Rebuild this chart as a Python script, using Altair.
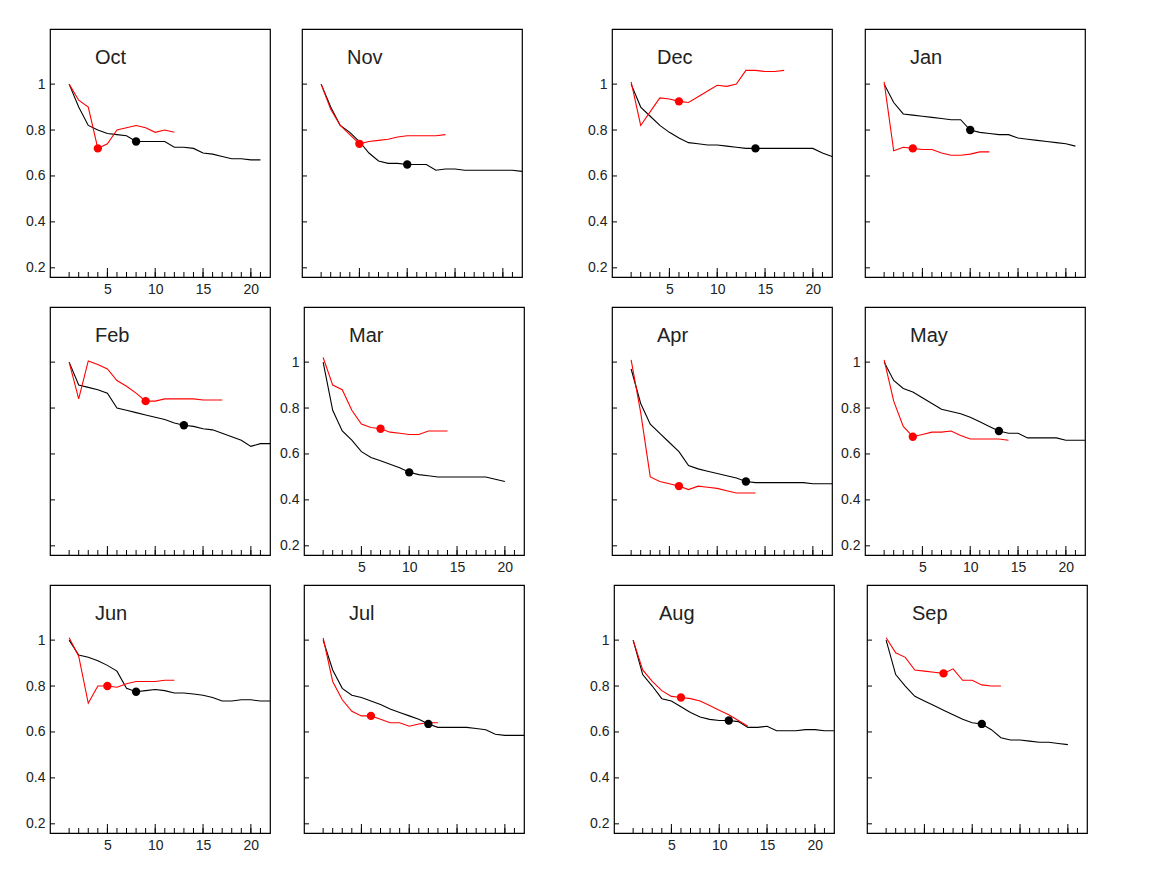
import pandas as pd
import altair as alt

months = ["Oct", "Nov", "Dec", "Jan", "Feb", "Mar", "Apr", "May", "Jun", "Jul", "Aug", "Sep"]

oct_black = [1.0, 0.9, 0.82, 0.80, 0.785, 0.78, 0.775, 0.75, 0.75, 0.75, 0.75, 0.725, 0.725, 0.72, 0.70, 0.695, 0.685, 0.675, 0.675, 0.67, 0.67]
oct_red = [1.0, 0.93, 0.90, 0.72, 0.74, 0.80, 0.81, 0.82, 0.81, 0.79, 0.80, 0.79]
nov_black = [1.0, 0.90, 0.82, 0.79, 0.75, 0.70, 0.665, 0.655, 0.655, 0.65, 0.65, 0.65, 0.625, 0.63, 0.63, 0.625, 0.625, 0.625, 0.625, 0.625, 0.625, 0.62]
nov_red = [1.0, 0.89, 0.82, 0.78, 0.74, 0.75, 0.755, 0.76, 0.77, 0.775, 0.775, 0.775, 0.775, 0.78]
dec_black = [1.0, 0.90, 0.86, 0.82, 0.79, 0.765, 0.745, 0.74, 0.735, 0.735, 0.73, 0.725, 0.72, 0.72, 0.72, 0.72, 0.72, 0.72, 0.72, 0.72, 0.70, 0.685]
dec_red = [1.01, 0.82, 0.88, 0.94, 0.935, 0.925, 0.92, 0.945, 0.97, 0.995, 0.99, 1.0, 1.06, 1.06, 1.055, 1.055, 1.06]
jan_black = [1.0, 0.92, 0.87, 0.865, 0.86, 0.855, 0.85, 0.845, 0.845, 0.80, 0.79, 0.785, 0.78, 0.78, 0.765, 0.76, 0.755, 0.75, 0.745, 0.74, 0.73]
jan_red = [1.01, 0.71, 0.725, 0.72, 0.715, 0.715, 0.70, 0.69, 0.69, 0.695, 0.705, 0.705]
feb_black = [1.0, 0.90, 0.89, 0.88, 0.865, 0.80, 0.79, 0.78, 0.77, 0.76, 0.75, 0.735, 0.725, 0.72, 0.71, 0.705, 0.69, 0.675, 0.66, 0.633, 0.645, 0.645]
feb_red = [1.0, 0.84, 1.005, 0.99, 0.97, 0.92, 0.895, 0.865, 0.83, 0.83, 0.84, 0.84, 0.84, 0.84, 0.835, 0.835, 0.835]
mar_black = [1.0, 0.79, 0.70, 0.66, 0.61, 0.585, 0.57, 0.555, 0.54, 0.52, 0.51, 0.505, 0.50, 0.50, 0.50, 0.50, 0.50, 0.50, 0.49, 0.48]
mar_red = [1.02, 0.90, 0.88, 0.79, 0.73, 0.715, 0.71, 0.695, 0.69, 0.685, 0.685, 0.70, 0.70, 0.70]
apr_black = [0.97, 0.82, 0.73, 0.69, 0.65, 0.61, 0.55, 0.535, 0.525, 0.515, 0.505, 0.495, 0.48, 0.475, 0.475, 0.475, 0.475, 0.475, 0.475, 0.47, 0.47, 0.47]
apr_red = [1.01, 0.78, 0.50, 0.48, 0.47, 0.46, 0.445, 0.46, 0.455, 0.45, 0.44, 0.43, 0.43, 0.43]
may_black = [1.0, 0.92, 0.885, 0.87, 0.845, 0.82, 0.795, 0.785, 0.775, 0.76, 0.74, 0.72, 0.70, 0.69, 0.69, 0.67, 0.67, 0.67, 0.67, 0.66, 0.66, 0.66]
may_red = [1.01, 0.83, 0.72, 0.675, 0.685, 0.695, 0.695, 0.70, 0.68, 0.665, 0.665, 0.665, 0.665, 0.66]
jun_black = [1.0, 0.935, 0.925, 0.91, 0.89, 0.865, 0.79, 0.775, 0.78, 0.785, 0.78, 0.77, 0.77, 0.765, 0.76, 0.75, 0.735, 0.735, 0.74, 0.74, 0.735, 0.735]
jun_red = [1.01, 0.93, 0.725, 0.80, 0.80, 0.795, 0.81, 0.82, 0.82, 0.82, 0.825, 0.825]
jul_black = [1.0, 0.87, 0.79, 0.76, 0.75, 0.735, 0.72, 0.70, 0.685, 0.67, 0.655, 0.635, 0.62, 0.62, 0.62, 0.62, 0.615, 0.61, 0.59, 0.585, 0.585, 0.585]
jul_red = [1.01, 0.82, 0.74, 0.69, 0.67, 0.67, 0.655, 0.64, 0.64, 0.625, 0.635, 0.64, 0.64]
aug_black = [1.0, 0.85, 0.80, 0.745, 0.735, 0.71, 0.685, 0.665, 0.655, 0.65, 0.65, 0.645, 0.62, 0.62, 0.625, 0.605, 0.605, 0.605, 0.61, 0.61, 0.605, 0.605]
aug_red = [1.0, 0.87, 0.82, 0.78, 0.755, 0.75, 0.745, 0.735, 0.715, 0.695, 0.675, 0.65, 0.625]
sep_black = [1.0, 0.85, 0.80, 0.755, 0.735, 0.715, 0.695, 0.675, 0.655, 0.64, 0.635, 0.61, 0.575, 0.565, 0.565, 0.56, 0.555, 0.555, 0.55, 0.545]
sep_red = [1.01, 0.945, 0.925, 0.87, 0.865, 0.86, 0.855, 0.875, 0.825, 0.825, 0.805, 0.80, 0.80]

black_series = [oct_black, nov_black, dec_black, jan_black, feb_black, mar_black,
                apr_black, may_black, jun_black, jul_black, aug_black, sep_black]
red_series = [oct_red, nov_red, dec_red, jan_red, feb_red, mar_red,
              apr_red, may_red, jun_red, jul_red, aug_red, sep_red]
black_dot_x = [8, 10, 14, 10, 13, 10, 13, 13, 8, 12, 11, 11]
red_dot_x = [4, 5, 6, 4, 9, 7, 6, 4, 5, 6, 6, 7]

minor_ticks = list(range(1, 22))
major_ticks = [5, 10, 15, 20]
y_ticks = [0.2, 0.4, 0.6, 0.8, 1.0]

W = 220
H = 248
col_extent = [41, 30, 86, 29]
FONT = "Liberation Sans"

xs = alt.Scale(domain=[-1, 22], nice=False, zero=False)
ys = alt.Scale(domain=[0.16, 1.24], nice=False, zero=False)
cs = alt.Scale(domain=["black", "red"], range=["#000000", "#ff0000"])


def panel(i):
    row, col = divmod(i, 4)
    labelled = (row + col) % 2 == 0
    rows = []
    for k, v in enumerate(black_series[i]):
        rows.append({"x": k + 1, "y": v, "s": "black"})
    for k, v in enumerate(red_series[i]):
        rows.append({"x": k + 1, "y": v, "s": "red"})
    df = pd.DataFrame(rows)
    dots = pd.concat([
        df[(df.s == "black") & (df.x == black_dot_x[i])],
        df[(df.s == "red") & (df.x == red_dot_x[i])],
    ])

    xax = alt.Axis(values=major_ticks, labels=labelled, ticks=False, domain=False, grid=False,
                   title=None, labelPadding=5, labelFontSize=14, labelFont=FONT, labelColor="#222",
                   minExtent=28, maxExtent=28)
    yax = alt.Axis(values=y_ticks, labels=labelled, ticks=False, domain=False, grid=False,
                   title=None, labelPadding=5, labelFontSize=14, labelFont=FONT, labelColor="#222",
                   format="~g", minExtent=col_extent[col], maxExtent=col_extent[col])

    base = alt.Chart(df).encode(
        x=alt.X("x:Q", scale=xs, axis=xax),
        y=alt.Y("y:Q", scale=ys, axis=yax),
        color=alt.Color("s:N", scale=cs, legend=None),
        detail="s:N",
    )
    lines = base.mark_line(strokeWidth=1.1)
    pts = alt.Chart(dots).mark_circle(size=70, opacity=1).encode(
        x=alt.X("x:Q", scale=xs), y=alt.Y("y:Q", scale=ys),
        color=alt.Color("s:N", scale=cs, legend=None),
    )
    minor = alt.Chart(pd.DataFrame({"t": minor_ticks})).mark_rule(color="black").encode(
        x=alt.X("t:Q", scale=xs), y=alt.value(H), y2=alt.value(H - 5))
    major = alt.Chart(pd.DataFrame({"t": major_ticks})).mark_rule(color="black").encode(
        x=alt.X("t:Q", scale=xs), y=alt.value(H), y2=alt.value(H - 9))
    yt = alt.Chart(pd.DataFrame({"t": y_ticks})).mark_rule(color="black").encode(
        y=alt.Y("t:Q", scale=ys), x=alt.value(0), x2=alt.value(5))
    label = alt.Chart(pd.DataFrame({"m": [months[i]]})).mark_text(
        font=FONT, fontSize=20, align="left", baseline="middle", color="#222").encode(
        text="m:N", x=alt.value(45), y=alt.value(29))
    return alt.layer(minor, major, yt, lines, pts, label).properties(width=W, height=H)


chart = alt.vconcat(*[
    alt.hconcat(*[panel(r * 4 + c) for c in range(4)], spacing=0)
    for r in range(3)
], spacing=0).properties(
    padding={"left": 0, "top": 20, "right": 10, "bottom": 5}
).configure(background="white").configure_view(stroke="black", strokeWidth=1.2)

chart.save("out.html", embed_options={"renderer": "svg", "actions": False})
